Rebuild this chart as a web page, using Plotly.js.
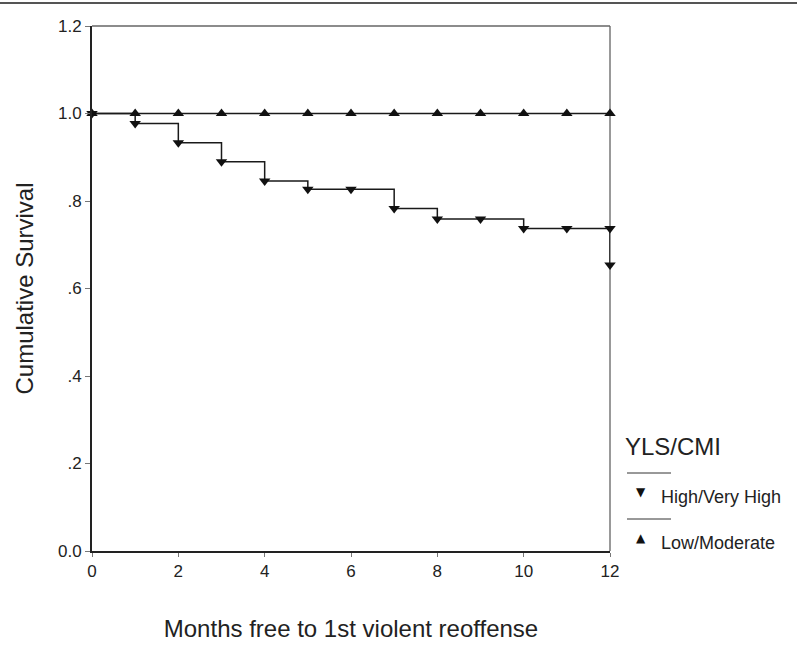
<!DOCTYPE html>
<html>
<head>
<meta charset="utf-8">
<script src="https://cdn.plot.ly/plotly-3.0.1.min.js"></script>
<style>html,body{margin:0;padding:0;background:#fff;}#chart{width:797px;height:645px;}</style>
</head>
<body>
<div id="chart"></div>
<script>
// Data
const months = [0,1,2,3,4,5,6,7,8,9,10,11,12];
const highSurvival = [1.0,0.977,0.933,0.890,0.846,0.827,0.827,0.783,0.759,0.759,0.737,0.737,0.737];
const highFinalMonth = [12];
const highFinalSurvival = [0.654];
const lowSurvival = [1.0,1.0,1.0,1.0,1.0,1.0,1.0,1.0,1.0,1.0,1.0,1.0,1.0];
const yTickVals = [0,0.2,0.4,0.6,0.8,1.0,1.2];
const yTickText = ["0.0",".2",".4",".6",".8","1.0","1.2"];
const xTickVals = [0,2,4,6,8,10,12];
const legendTitle = "YLS/CMI";
const seriesNames = ["High/Very High","Low/Moderate"];

const M = {l:92, r:187, t:26, b:94};
const W = 797, H = 645;
const pw = W - M.l - M.r, ph = H - M.t - M.b;
const px = x => (x - M.l) / pw;
const py = y => (H - M.b - y) / ph;

const lineCol = '#1a1a1a';
const traces = [
  {x: months.concat(highFinalMonth), y: highSurvival.concat(highFinalSurvival), mode:'lines', line:{shape:'hv', color:lineCol, width:1.5}, hoverinfo:'skip', showlegend:false, cliponaxis:false},
  {x: months, y: lowSurvival, mode:'lines+markers', line:{shape:'hv', color:lineCol, width:1.5}, marker:{symbol:'triangle-up', size:10, color:'#111'}, name:seriesNames[1], showlegend:false, cliponaxis:false},
  {x: months.concat(highFinalMonth), y: highSurvival.concat(highFinalSurvival), mode:'markers', marker:{symbol:'triangle-down', size:10, color:'#111'}, name:seriesNames[0], showlegend:false, cliponaxis:false}
];

const font = {family:'"Liberation Sans", Arial, sans-serif', color:'#222'};
const layout = {
  width: W, height: H,
  margin: M,
  paper_bgcolor:'#fff', plot_bgcolor:'#fff',
  showlegend:false,
  font: Object.assign({size:17}, font),
  xaxis: {
    range:[0,12], tickvals:xTickVals, ticks:'outside', ticklen:4, tickcolor:'#777', tickwidth:1,
    showgrid:false, zeroline:false, showline:true, mirror:false, linecolor:'#222', linewidth:2,
    tickfont:{size:17}, fixedrange:true,
    title:{text:'Months free to 1st violent reoffense', font:{size:24}, standoff:40}
  },
  yaxis: {
    range:[0,1.2], tickvals:yTickVals, ticktext:yTickText, ticks:'outside', ticklen:5, tickcolor:'#777', tickwidth:1,
    showgrid:false, zeroline:false, showline:true, mirror:false, linecolor:'#222', linewidth:2,
    tickfont:{size:17}, fixedrange:true,
    title:{text:'Cumulative Survival', font:{size:24}, standoff:18}
  },
  shapes: [
    {type:'line', xref:'paper', yref:'paper', x0:0, x1:1, y0:1, y1:1, line:{color:'#666', width:1.5}},
    {type:'line', xref:'paper', yref:'paper', x0:1, x1:1, y0:0, y1:1, line:{color:'#777', width:1.5}, layer:'below'},
    {type:'line', xref:'paper', yref:'paper', x0:px(0), x1:px(W), y0:py(3), y1:py(3), line:{color:'#555', width:2}},
    {type:'line', xref:'paper', yref:'paper', x0:px(627), x1:px(671), y0:py(473), y1:py(473), line:{color:'#333', width:1}},
    {type:'line', xref:'paper', yref:'paper', x0:px(627), x1:px(671), y0:py(519), y1:py(519), line:{color:'#333', width:1}}
  ],
  annotations: [
    {xref:'paper', yref:'paper', x:px(623), y:py(446), xanchor:'left', yanchor:'middle', text:legendTitle, showarrow:false, font:{size:24, color:'#222'}},
    {xref:'paper', yref:'paper', x:px(641), y:py(492), xanchor:'center', yanchor:'middle', text:'▼', showarrow:false, font:{family:'DejaVu Sans', size:12, color:'#111'}},
    {xref:'paper', yref:'paper', x:px(659), y:py(497), xanchor:'left', yanchor:'middle', text:seriesNames[0], showarrow:false, font:{size:18, color:'#222'}},
    {xref:'paper', yref:'paper', x:px(641), y:py(538), xanchor:'center', yanchor:'middle', text:'▲', showarrow:false, font:{family:'DejaVu Sans', size:12, color:'#111'}},
    {xref:'paper', yref:'paper', x:px(659), y:py(543), xanchor:'left', yanchor:'middle', text:seriesNames[1], showarrow:false, font:{size:18, color:'#222'}}
  ]
};
Plotly.newPlot('chart', traces, layout, {displayModeBar:false, staticPlot:true});
</script>
</body>
</html>
